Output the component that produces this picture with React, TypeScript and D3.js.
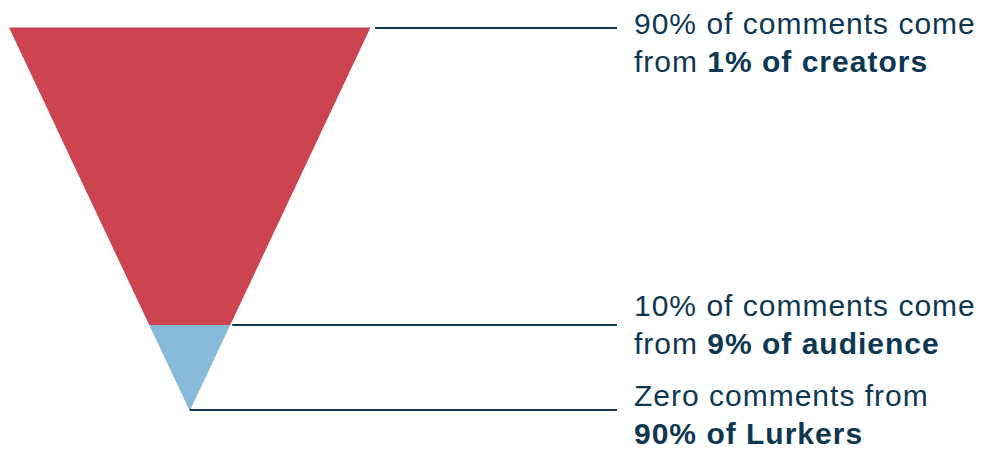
import React from "react";
import * as d3 from "d3";

// Funnel segments (top to bottom)
const segments = ["creators", "audience", "lurkers"];
// Cumulative depth (fraction of funnel height) where each segment ends
const segmentEnds = [0.776, 1.0];
const segmentColors = ["#CB4450", "#88BAD9"];
// Annotation texts
const normalText = ["90% of comments come", "10% of comments come", "Zero comments from"];
const secondPrefix = ["from ", "from ", ""];
const boldText = ["1% of creators", "9% of audience", "90% of Lurkers"];
// Depth where each annotation's connector attaches
const connectorDepth = [0, 0.776, 1.0];

const W = 982;
const H = 454;

export default function App() {
  const top = 27.5;
  const apexY = 411;
  const leftX = 9;
  const rightX = 370.5;
  const cx = (leftX + rightX) / 2;
  const halfW = (rightX - leftX) / 2;

  const y = d3.scaleLinear().domain([0, 1]).range([top, apexY]);
  const half = d3.scaleLinear().domain([0, 1]).range([halfW, 0]);

  const starts = [0, ...segmentEnds.slice(0, -1)];
  const polys = segmentEnds.map((end, i) => {
    const s = starts[i];
    const pts: [number, number][] = [
      [cx - half(s), y(s)],
      [cx + half(s), y(s)],
      [cx + half(end), y(end)],
      [cx - half(end), y(end)],
    ];
    return d3.line()(pts.concat([pts[0]])) as string;
  });

  const lineEndX = 617;
  const textX = 634;
  const textFirstBaseline = [33.5, 316, 405.5];
  const lineGap = 38.3;
  const textColor = "#0E3852";

  return (
    <svg width={W} height={H} style={{ position: "absolute", left: 0, top: 0 }}>
      <rect width={W} height={H} fill="#fff" />
      {polys.map((d, i) => (
        <path key={segments[i]} d={d} fill={segmentColors[i]} />
      ))}
      {connectorDepth.map((dep, i) => (
        <line
          key={"l" + i}
          x1={cx + half(dep) + (dep === 0 ? 4.5 : dep === 1 ? 0 : 2)}
          x2={lineEndX}
          y1={y(dep) + (dep === 0 ? 0.5 : dep === 1 ? -1 : 0)}
          y2={y(dep) + (dep === 0 ? 0.5 : dep === 1 ? -1 : 0)}
          stroke="#123A52"
          strokeWidth={2}
        />
      ))}
      {normalText.map((t, i) => (
        <text
          key={"t" + i}
          fontFamily="Arial, 'Liberation Sans', sans-serif"
          fontSize={30}
          letterSpacing={1.0}
          fill={textColor}
        >
          <tspan x={textX} y={textFirstBaseline[i]}>{t}</tspan>
          <tspan x={textX} y={textFirstBaseline[i] + lineGap}>
            {secondPrefix[i]}
            <tspan fontWeight="bold">{boldText[i]}</tspan>
          </tspan>
        </text>
      ))}
    </svg>
  );
}
